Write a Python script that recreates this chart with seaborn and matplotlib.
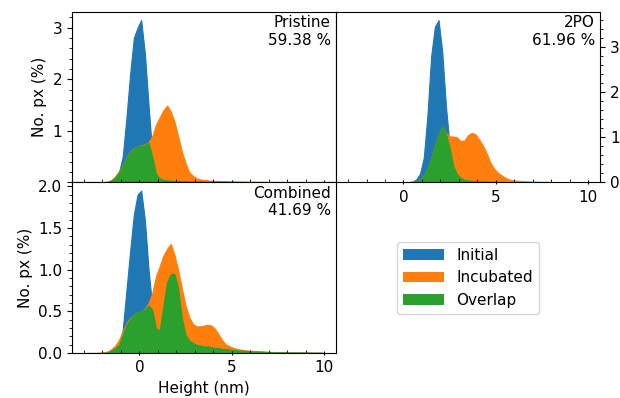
import numpy as np
import pandas as pd
import seaborn as sns
import matplotlib
matplotlib.use('Agg')
from matplotlib import pyplot as plt
from matplotlib.patches import Patch
from matplotlib.ticker import AutoMinorLocator, MultipleLocator, FuncFormatter

# histogram bins (nm), 0.2 nm wide from -3 to 10
bin_edges = np.arange(-3.0, 10.0001, 0.2)
bin_centers = (bin_edges[:-1] + bin_edges[1:]) / 2

series_names = ["Initial", "Incubated", "Overlap"]
series_colors = ["#1f77b4", "#ff7f0e", "#2ca02c"]

panel_names = ["Pristine", "2PO", "Combined"]
overlap_pct = [59.38, 61.96, 41.69]

# No. px (%) per bin
pristine_initial = [0, 0, 0, 0, 0, 0, 0.01, 0.04, 0.1, 0.2, 0.5, 1.25, 2.1,
                    2.8, 3.0, 3.15, 2.5, 1.5, 0.55, 0.17, 0.08, 0.05, 0.04, 0.035, 0.03, 0.03,
                    0.025, 0.025, 0.02, 0.02, 0.02, 0.018, 0.016, 0.015, 0.014, 0.013, 0.012, 0.011, 0.01,
                    0.01, 0.009, 0.009, 0.008, 0.008, 0.007, 0.007, 0.006, 0.006, 0.005, 0.005, 0.005, 0.004,
                    0.004, 0.004, 0.003, 0.003, 0.003, 0.003, 0.002, 0.002, 0.002, 0.002, 0.002, 0.001, 0.001]
pristine_incubated = [0, 0, 0, 0, 0, 0.01, 0.02, 0.05, 0.12, 0.22, 0.33, 0.48, 0.6,
                      0.66, 0.7, 0.72, 0.74, 0.78, 0.9, 1.12, 1.26, 1.4, 1.49, 1.38, 1.18, 0.9,
                      0.6, 0.38, 0.2, 0.13, 0.08, 0.06, 0.05, 0.04, 0.035, 0.03, 0.03, 0.025, 0.025,
                      0.02, 0.02, 0.02, 0.018, 0.016, 0.015, 0.014, 0.013, 0.012, 0.011, 0.01, 0.01, 0.009,
                      0.008, 0.008, 0.007, 0.007, 0.006, 0.006, 0.005, 0.005, 0.005, 0.004, 0.004, 0.004, 0.003]
pristine_overlap = [0, 0, 0, 0, 0, 0, 0.01, 0.04, 0.1, 0.2, 0.32, 0.47, 0.59,
                    0.65, 0.7, 0.71, 0.73, 0.77, 0.5, 0.17, 0.08, 0.05, 0.04, 0.035, 0.03, 0.03,
                    0.025, 0.025, 0.02, 0.02, 0.02, 0.018, 0.016, 0.015, 0.014, 0.013, 0.012, 0.011, 0.01,
                    0.01, 0.009, 0.009, 0.008, 0.008, 0.007, 0.007, 0.006, 0.006, 0.005, 0.005, 0.005, 0.004,
                    0.004, 0.004, 0.003, 0.003, 0.003, 0.003, 0.002, 0.002, 0.002, 0.002, 0.002, 0.001, 0.001]

po_initial = [0, 0, 0, 0, 0, 0, 0, 0, 0, 0, 0, 0, 0,
              0, 0, 0.005, 0.01, 0.02, 0.07, 0.2, 0.55, 1.5, 2.8, 3.45, 3.6, 2.9,
              1.7, 0.8, 0.38, 0.2, 0.11, 0.07, 0.05, 0.04, 0.03, 0.025, 0.02, 0.02, 0.015,
              0.015, 0.012, 0.01, 0.01, 0.008, 0.008, 0.007, 0.006, 0.006, 0.005, 0.005, 0.004, 0.004,
              0.004, 0.003, 0.003, 0.003, 0.003, 0.002, 0.002, 0.002, 0.002, 0.002, 0.001, 0.001, 0.001]
po_incubated = [0, 0, 0, 0, 0, 0, 0, 0, 0, 0, 0, 0, 0,
                0, 0, 0.005, 0.01, 0.015, 0.03, 0.07, 0.15, 0.3, 0.52, 0.82, 1.05, 1.24,
                1.1, 1.02, 1.02, 1.0, 0.92, 0.93, 1.05, 1.1, 1.07, 0.95, 0.82, 0.65, 0.45,
                0.31, 0.22, 0.16, 0.11, 0.07, 0.05, 0.04, 0.035, 0.03, 0.025, 0.022, 0.02, 0.018,
                0.016, 0.014, 0.012, 0.01, 0.009, 0.008, 0.007, 0.006, 0.005, 0.005, 0.004, 0.004, 0.003]
po_overlap = [0, 0, 0, 0, 0, 0, 0, 0, 0, 0, 0, 0, 0,
              0, 0, 0.005, 0.01, 0.015, 0.03, 0.07, 0.15, 0.3, 0.52, 0.82, 1.05, 1.24,
              1.08, 0.78, 0.36, 0.18, 0.1, 0.06, 0.045, 0.035, 0.03, 0.025, 0.02, 0.02, 0.015,
              0.015, 0.012, 0.01, 0.01, 0.008, 0.008, 0.007, 0.006, 0.006, 0.005, 0.005, 0.004, 0.004,
              0.004, 0.003, 0.003, 0.003, 0.003, 0.002, 0.002, 0.002, 0.002, 0.002, 0.001, 0.001, 0.001]

combined_initial = [0, 0, 0, 0, 0, 0, 0.01, 0.03, 0.06, 0.1, 0.28, 0.75, 1.22,
                    1.66, 1.9, 1.95, 1.6, 1.0, 0.55, 0.3, 0.27, 0.56, 0.85, 0.95, 0.95, 0.78,
                    0.42, 0.22, 0.15, 0.12, 0.1, 0.09, 0.08, 0.08, 0.07, 0.06, 0.06, 0.05, 0.05,
                    0.04, 0.04, 0.03, 0.03, 0.025, 0.02, 0.02, 0.018, 0.016, 0.014, 0.012, 0.01, 0.01,
                    0.009, 0.008, 0.007, 0.006, 0.006, 0.005, 0.005, 0.004, 0.004, 0.003, 0.003, 0.003, 0.002]
combined_incubated = [0, 0, 0, 0, 0.005, 0.01, 0.02, 0.05, 0.09, 0.16, 0.26, 0.36, 0.42,
                      0.46, 0.49, 0.5, 0.53, 0.6, 0.72, 0.92, 1.04, 1.17, 1.25, 1.31, 1.18, 1.0,
                      0.78, 0.57, 0.43, 0.35, 0.32, 0.32, 0.33, 0.34, 0.33, 0.29, 0.22, 0.15, 0.1,
                      0.08, 0.06, 0.05, 0.04, 0.035, 0.03, 0.025, 0.022, 0.02, 0.018, 0.016, 0.014, 0.012,
                      0.011, 0.01, 0.009, 0.008, 0.007, 0.006, 0.006, 0.005, 0.005, 0.004, 0.004, 0.003, 0.003]
combined_overlap = [0, 0, 0, 0, 0, 0, 0.01, 0.03, 0.06, 0.1, 0.22, 0.34, 0.41,
                    0.46, 0.49, 0.5, 0.52, 0.57, 0.52, 0.3, 0.27, 0.56, 0.85, 0.95, 0.95, 0.78,
                    0.42, 0.22, 0.15, 0.12, 0.1, 0.09, 0.08, 0.08, 0.07, 0.06, 0.06, 0.05, 0.05,
                    0.04, 0.04, 0.03, 0.03, 0.025, 0.02, 0.02, 0.018, 0.016, 0.014, 0.012, 0.01, 0.01,
                    0.009, 0.008, 0.007, 0.006, 0.006, 0.005, 0.005, 0.004, 0.004, 0.003, 0.003, 0.003, 0.002]

panel_data = [
    [pristine_initial, pristine_incubated, pristine_overlap],
    [po_initial, po_incubated, po_overlap],
    [combined_initial, combined_incubated, combined_overlap],
]

plt.rcParams['font.size'] = 11


def draw_panel(ax, series, name, pct):
    for values, color in zip(series, series_colors):
        df = pd.DataFrame({"height": bin_centers, "pct": values})
        # bins passed as a list: seaborn compares bins to "auto" when weights are given
        sns.histplot(data=df, x="height", weights="pct", bins=list(bin_edges), element="poly",
                     fill=True, color=color, edgecolor=color, alpha=1, linewidth=0.8, ax=ax)
    ax.set_ylim(bottom=0)
    ax.text(0.98, 0.98, f"{name}\n{pct:.2f} %", transform=ax.transAxes,
            ha="right", va="top", multialignment="right")
    ax.set_ylabel("")
    ax.set_xlabel("")
    ax.xaxis.set_minor_locator(AutoMinorLocator())
    ax.yaxis.set_minor_locator(AutoMinorLocator())
    ax.tick_params(axis="x", which="major", direction="inout")
    ax.tick_params(axis="x", which="minor", direction="in")


fig, axes = plt.subplots(2, 2, sharex=True, figsize=(6.2, 3.98), dpi=100)
fig.subplots_adjust(left=0.116, right=0.968, top=0.970, bottom=0.113, hspace=0, wspace=0)

ax_pr, ax_po, ax_cb, ax_leg = axes[0, 0], axes[0, 1], axes[1, 0], axes[1, 1]
for ax, series, name, pct in zip([ax_pr, ax_po, ax_cb], panel_data, panel_names, overlap_pct):
    draw_panel(ax, series, name, pct)

pad = 0.05 * (bin_edges[-1] - bin_edges[0])
ax_cb.set_xlim(bin_edges[0] - pad, bin_edges[-1] + pad)
ax_cb.xaxis.set_major_locator(MultipleLocator(5))

ax_pr.yaxis.set_major_locator(MultipleLocator(1))
ax_pr.yaxis.set_major_formatter(FuncFormatter(lambda v, p: "" if v == 0 else f"{v:g}"))
ax_pr.set_ylabel("No. px (%)")

ax_po.yaxis.set_major_locator(MultipleLocator(1))
ax_po.yaxis.tick_right()
ax_po.tick_params(axis="x", labelbottom=True)
ax_po.set_xlabel("Height (nm)")

ax_cb.yaxis.set_major_locator(MultipleLocator(0.5))
ax_cb.set_ylabel("No. px (%)")
ax_cb.set_xlabel("Height (nm)")

ax_leg.axis("off")
handles = [Patch(facecolor=c, label=n) for n, c in zip(series_names, series_colors)]
ax_leg.legend(handles=handles, loc="center", bbox_to_anchor=(0.5, 0.44), handlelength=2.7)

fig.savefig("out.png", dpi=100)
